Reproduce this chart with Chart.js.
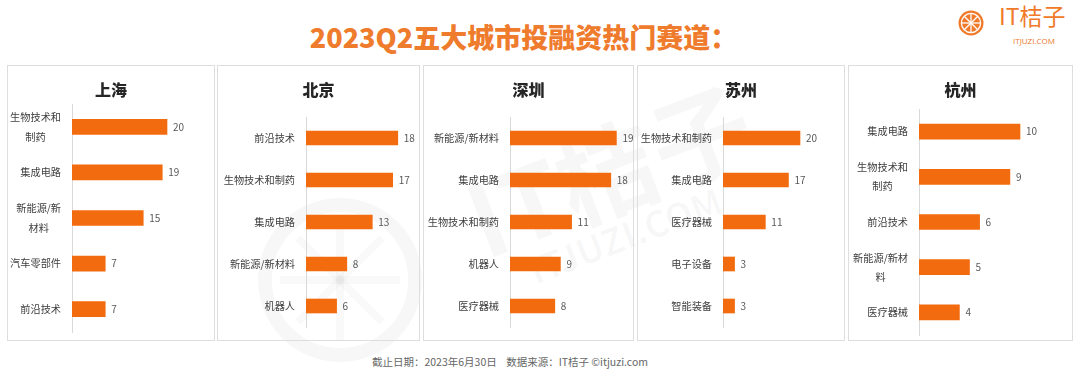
<!DOCTYPE html>
<html>
<head>
<meta charset="utf-8">
<script src="https://cdn.jsdelivr.net/npm/chart.js@4.4.0/dist/chart.umd.min.js"></script>
<style>
  html, body { margin: 0; padding: 0; background: #fff; }
  body { width: 1080px; height: 375px; position: relative; overflow: hidden; font-family: "Noto Sans CJK SC", sans-serif; }
  .title { position: absolute; left: 0; top: 17px; width: 1047px; text-align: center; font-size: 27px; font-weight: 900; line-height: 40px; color: #EF7B2D; }
  .logo-text { position: absolute; left: 999px; top: -1px; font-size: 23px; line-height: 32px; color: #F07A2A; }
  .logo-sub { position: absolute; left: 1013px; top: 36px; font-size: 8px; line-height: 10px; color: #E8782E; font-family: "Open Sans", sans-serif; }
  .panel { position: absolute; top: 65px; height: 276px; border: 1px solid #dedede; box-sizing: border-box; z-index: 2; }
  .panel canvas { position: absolute; left: 0; top: 0; }
  .panel-title { position: absolute; left: 0; right: 0; top: 12px; text-align: center; font-size: 16px; font-weight: 900; line-height: 22px; color: #262626; }
  .wm { position: absolute; pointer-events: none; color: rgba(0,0,0,0.03); font-weight: 700; transform-origin: 0 50%; white-space: nowrap; z-index: 1; }
  .foot { position: absolute; left: 0; top: 354px; width: 1020px; text-align: center; font-size: 10.5px; line-height: 16px; color: #666; }
</style>
</head>
<body>
<div class="title">2023Q2五大城市投融资热门赛道：</div>
<svg width="28" height="28" viewBox="-14 -14 28 28" style="position:absolute;left:957px;top:9px">
  <circle r="12.5" fill="#F07A2A"/>
  <circle r="9.6" fill="none" stroke="#fff" stroke-width="1.3"/>
  <g stroke="#fff" stroke-width="1.3">
    <line x1="-9.6" y1="0" x2="9.6" y2="0"/>
    <line x1="0" y1="-9.6" x2="0" y2="9.6"/>
    <line x1="-6.8" y1="-6.8" x2="6.8" y2="6.8"/>
    <line x1="-6.8" y1="6.8" x2="6.8" y2="-6.8"/>
  </g>
</svg>
<div class="logo-text">IT桔子</div>
<div class="logo-sub">ITJUZI.COM</div>

<!-- faint watermark behind the panels -->
<svg width="200" height="200" viewBox="-100 -100 200 200" style="position:absolute;left:240px;top:180px;z-index:1">
  <circle r="75" fill="none" stroke="rgba(0,0,0,0.03)" stroke-width="14"/>
  <g stroke="rgba(0,0,0,0.025)" stroke-width="8">
    <line x1="-60" y1="0" x2="60" y2="0"/>
    <line x1="0" y1="-60" x2="0" y2="60"/>
    <line x1="-42" y1="-42" x2="42" y2="42"/>
    <line x1="-42" y1="42" x2="42" y2="-42"/>
  </g>
</svg>
<div class="wm" style="left:470px;top:170px;font-size:100px;line-height:100px;transform:rotate(-21deg);">IT桔子</div>
<div class="wm" style="left:530px;top:250px;font-size:36px;line-height:40px;transform:rotate(-21deg);">ITJUZI.COM</div>

<div id="panels"></div>

<div class="foot">截止日期：2023年6月30日&nbsp;&nbsp;&nbsp;&nbsp;数据来源：IT桔子 ©itjuzi.com</div>

<script>
// ---- data ----
var cities = ['上海', '北京', '深圳', '苏州', '杭州'];

var shLabels = [['生物技术和', '制药'], '集成电路', ['新能源/新', '材料'], '汽车零部件', '前沿技术'];
var shValues = [20, 19, 15, 7, 7];

var bjLabels = ['前沿技术', '生物技术和制药', '集成电路', '新能源/新材料', '机器人'];
var bjValues = [18, 17, 13, 8, 6];

var szLabels = ['新能源/新材料', '集成电路', '生物技术和制药', '机器人', '医疗器械'];
var szValues = [19, 18, 11, 9, 8];

var suLabels = ['生物技术和制药', '集成电路', '医疗器械', '电子设备', '智能装备'];
var suValues = [20, 17, 11, 3, 3];

var hzLabels = ['集成电路', ['生物技术和', '制药'], '前沿技术', ['新能源/新材', '料'], '医疗器械'];
var hzValues = [10, 9, 6, 5, 4];

var allLabels = [shLabels, bjLabels, szLabels, suLabels, hzLabels];
var allValues = [shValues, bjValues, szValues, suValues, hzValues];

// ---- layout per panel (px): axisX = category axis position, ppu = px per unit ----
var panelLayout = [
  { left: 7,   width: 208, axisX: 64, top: 38, bottom: 8,  ppu: 4.75, bar: 15, lh: 20 },
  { left: 217, width: 203, axisX: 88, top: 51, bottom: 13, ppu: 5.1,  bar: 14, lh: 20 },
  { left: 423, width: 211, axisX: 86, top: 51, bottom: 13, ppu: 5.6,  bar: 14, lh: 20 },
  { left: 637, width: 208, axisX: 85, top: 51, bottom: 13, ppu: 3.85, bar: 14, lh: 20 },
  { left: 848, width: 225, axisX: 70, top: 43, bottom: 5,  ppu: 10.1, bar: 15, lh: 19 }
];

var BAR_COLOR = '#F36B0F';
var FONT = '"Noto Sans CJK SC", sans-serif';

// category labels (Excel style: multi-line block right aligned, lines centred) + value labels
var barTextPlugin = {
  id: 'barText',
  afterDatasetsDraw: function(chart, args, opts) {
    var ctx = chart.ctx;
    var area = chart.chartArea;
    var yScale = chart.scales.y;
    var meta = chart.getDatasetMeta(0);
    var values = chart.data.datasets[0].data;

    ctx.save();
    ctx.textBaseline = 'middle';
    ctx.font = '10.2px ' + FONT;
    ctx.fillStyle = '#404040';
    ctx.textAlign = 'center';
    chart.data.labels.forEach(function(lab, i) {
      var lines = Array.isArray(lab) ? lab : [lab];
      var w = 0;
      lines.forEach(function(l) { w = Math.max(w, ctx.measureText(l).width); });
      var cx = area.left - 11 - w / 2;
      var y = yScale.getPixelForValue(i);
      lines.forEach(function(l, k) {
        ctx.fillText(l, cx, y + (k - (lines.length - 1) / 2) * opts.lineHeight);
      });
    });

    ctx.font = '10px ' + FONT;
    ctx.fillStyle = '#595959';
    ctx.textAlign = 'left';
    meta.data.forEach(function(bar, i) {
      ctx.fillText(String(values[i]), bar.x + 6, bar.y);
    });
    ctx.restore();
  }
};

var holder = document.getElementById('panels');

cities.forEach(function(city, idx) {
  var L = panelLayout[idx];
  var panel = document.createElement('div');
  panel.className = 'panel';
  panel.style.left = L.left + 'px';
  panel.style.width = L.width + 'px';

  var canvas = document.createElement('canvas');
  canvas.width = L.width - 2;
  canvas.height = 274;
  canvas.style.width = (L.width - 2) + 'px';
  canvas.style.height = '274px';
  panel.appendChild(canvas);

  var t = document.createElement('div');
  t.className = 'panel-title';
  t.textContent = city;
  panel.appendChild(t);
  holder.appendChild(panel);

  new Chart(canvas, {
    type: 'bar',
    data: {
      labels: allLabels[idx],
      datasets: [{
        data: allValues[idx],
        backgroundColor: BAR_COLOR,
        borderWidth: 0,
        barThickness: L.bar
      }]
    },
    options: {
      indexAxis: 'y',
      responsive: false,
      animation: false,
      layout: { padding: { top: L.top, bottom: L.bottom, left: 0, right: 0 } },
      plugins: {
        legend: { display: false },
        tooltip: { enabled: false },
        barText: { lineHeight: L.lh }
      },
      scales: {
        x: { display: false, min: 0, max: (L.width - 2 - L.axisX) / L.ppu },
        y: {
          grid: { display: false },
          border: { display: true, color: '#d9d9d9', width: 1 },
          ticks: { display: false },
          afterFit: function(scale) { scale.width = L.axisX; }
        }
      }
    },
    plugins: [barTextPlugin]
  });
});
</script>
</body>
</html>
